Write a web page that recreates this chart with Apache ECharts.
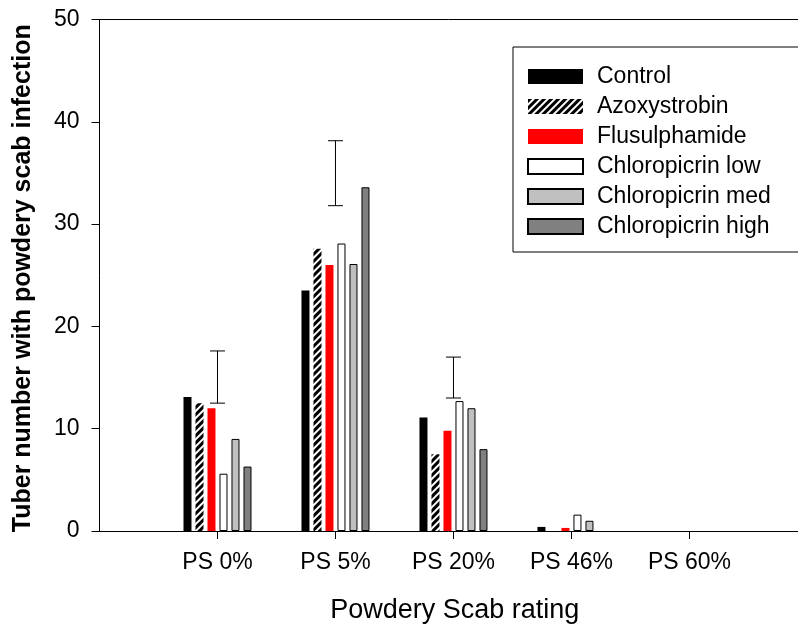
<!DOCTYPE html>
<html>
<head>
<meta charset="utf-8">
<script src="https://cdn.jsdelivr.net/npm/echarts@6/dist/echarts.min.js"></script>
<style>
html,body{margin:0;padding:0;background:#fff;}
#chart{width:798px;height:625px;}
</style>
</head>
<body>
<div id="chart"></div>
<script>
var categories = ['PS 0%', 'PS 5%', 'PS 20%', 'PS 46%', 'PS 60%'];
var seriesNames = ['Control', 'Azoxystrobin', 'Flusulphamide', 'Chloropicrin low', 'Chloropicrin med', 'Chloropicrin high'];
var control = [13.1, 23.5, 11.1, 0.4, 0];
var azoxystrobin = [12.5, 27.6, 7.5, 0, 0];
var flusulphamide = [12.0, 26.0, 9.8, 0.3, 0];
var chloroLow = [5.6, 28.1, 12.7, 1.6, 0];
var chloroMed = [9.0, 26.1, 12.0, 1.0, 0];
var chloroHigh = [6.3, 33.6, 8.0, 0, 0];
var errLow = [12.5, 31.8, 13.0, null, null];
var errHigh = [17.6, 38.15, 17.0, null, null];
var yTicks = [0, 10, 20, 30, 40, 50];

var FONT = 'Liberation Sans, Arial, sans-serif';
var values = [control, azoxystrobin, flusulphamide, chloroLow, chloroMed, chloroHigh];
var styles = [
  {color: '#000000', borderWidth: 0},
  {color: '#ffffff', borderWidth: 0, decal: {symbol: 'rect', symbolSize: 1, dashArrayX: [1, 0], dashArrayY: [2.2, 1.8], rotation: -Math.PI / 4, color: '#000000'}},
  {color: '#ff0000', borderWidth: 0},
  {color: '#ffffff', borderColor: '#000000', borderWidth: 1},
  {color: '#c0c0c0', borderColor: '#000000', borderWidth: 1},
  {color: '#808080', borderColor: '#000000', borderWidth: 1}
];
var xMax = 5.92;

var series = seriesNames.map(function (name, s) {
  return {
    name: name,
    type: 'bar',
    xAxisIndex: 0,
    barWidth: 8,
    barGap: '50%',
    itemStyle: styles[s],
    data: categories.map(function (c, i) { return [i + 1, values[s][i] > 0 ? values[s][i] : null]; })
  };
});

var errData = [];
categories.forEach(function (c, i) {
  if (errLow[i] != null) errData.push([i + 1, errLow[i], errHigh[i]]);
});
series.push({
  type: 'custom',
  xAxisIndex: 0,
  silent: true,
  data: errData,
  encode: {x: 0, y: [1, 2]},
  renderItem: function (params, api) {
    var x = api.value(0);
    var p1 = api.coord([x, api.value(1)]);
    var p2 = api.coord([x, api.value(2)]);
    var hw = 7.5;
    var st = {stroke: '#000', lineWidth: 1};
    return {
      type: 'group',
      children: [
        {type: 'line', shape: {x1: p1[0], y1: p1[1], x2: p2[0], y2: p2[1]}, style: st},
        {type: 'line', shape: {x1: p1[0] - hw, y1: p1[1], x2: p1[0] + hw, y2: p1[1]}, style: st},
        {type: 'line', shape: {x1: p2[0] - hw, y1: p2[1], x2: p2[0] + hw, y2: p2[1]}, style: st}
      ]
    };
  }
});

var chart = echarts.init(document.getElementById('chart'), null, {renderer: 'canvas'});
chart.setOption({
  animation: false,
  backgroundColor: '#fff',
  textStyle: {fontFamily: FONT},
  grid: {left: 99.5, right: 0, top: 19.5, bottom: 94, containLabel: false, outerBoundsMode: 'none'},
  legend: {
    data: seriesNames,
    orient: 'vertical',
    left: 513,
    top: 47,
    icon: 'rect',
    itemWidth: 55,
    itemHeight: 15,
    itemGap: 7,
    padding: [18, 60, 14, 14],
    borderColor: '#000',
    borderWidth: 1,
    backgroundColor: '#fff',
    textStyle: {fontSize: 23, color: '#000', fontFamily: FONT, padding: [0, 0, 0, 9]}
  },
  xAxis: [{
    type: 'value',
    min: 0,
    max: xMax,
    interval: 1,
    name: 'Powdery Scab rating',
    nameLocation: 'middle',
    nameGap: 66,
    nameTextStyle: {fontSize: 27, color: '#000', fontFamily: FONT, padding: [0, 0, 0, 12]},
    axisLine: {show: true, lineStyle: {color: '#000', width: 1}},
    axisTick: {show: true, length: 8, inside: false, lineStyle: {color: '#000'}, customValues: categories.map(function (c, i) { return i + 1; })},
    axisLabel: {
      fontSize: 23, color: '#000', fontFamily: FONT, margin: 20,
      customValues: categories.map(function (c, i) { return i + 1; }),
      formatter: function (v) { var k = Math.round(v) - 1; return categories[k] || ''; }
    },
    splitLine: {show: false}
  }, {
    type: 'value',
    position: 'top',
    min: 0,
    max: xMax,
    axisLine: {show: true, lineStyle: {color: '#000', width: 1}},
    axisTick: {show: false},
    axisLabel: {show: false},
    splitLine: {show: false}
  }],
  yAxis: {
    type: 'value',
    min: yTicks[0],
    max: yTicks[yTicks.length - 1],
    interval: 10,
    name: 'Tuber number with powdery scab infection',
    nameLocation: 'middle',
    nameRotate: 90,
    nameGap: 64,
    nameTextStyle: {fontSize: 25, fontWeight: 'bold', color: '#000', fontFamily: FONT, padding: [0, 6, 0, 0]},
    axisLine: {show: true, lineStyle: {color: '#000', width: 1}},
    axisTick: {show: true, length: 8, inside: false, lineStyle: {color: '#000'}},
    axisLabel: {fontSize: 23, color: '#000', fontFamily: FONT, margin: 20},
    splitLine: {show: false}
  },
  series: series
});
</script>
</body>
</html>
